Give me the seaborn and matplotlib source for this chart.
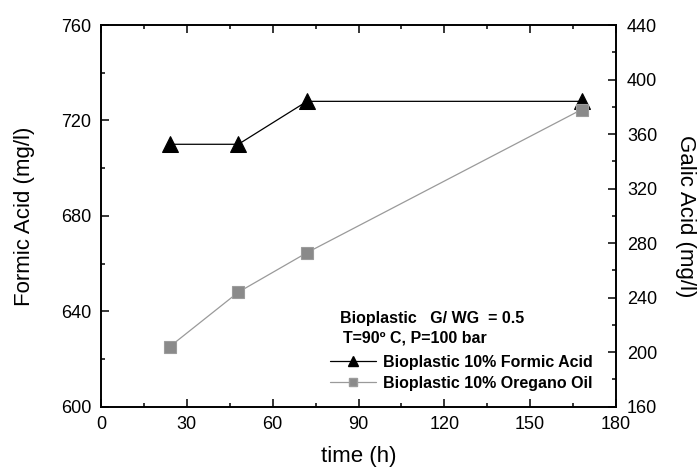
import matplotlib
matplotlib.use("Agg")
import matplotlib.pyplot as plt
import seaborn as sns
import pandas as pd
from matplotlib.ticker import MultipleLocator
from matplotlib.lines import Line2D

# Sampling times (h)
time_h = [24, 48, 72, 168]
# Formic acid concentration (mg/l), left axis
formic_acid = [710, 710, 728, 728]
# Gallic acid concentration (mg/l), right axis
galic_acid = [204, 244, 273, 378]

label_formic = "Bioplastic 10% Formic Acid"
label_oregano = "Bioplastic 10% Oregano Oil"
header_1 = "Bioplastic   G/ WG  = 0.5"
header_2 = "T=90º C, P=100 bar"

sns.set_style("ticks")
plt.rcParams["font.family"] = ["Liberation Sans", "DejaVu Sans"]
plt.rcParams["text.color"] = "black"
plt.rcParams["axes.labelcolor"] = "black"
plt.rcParams["xtick.color"] = "black"
plt.rcParams["ytick.color"] = "black"

df_formic = pd.DataFrame({"time": time_h, "value": formic_acid})
df_galic = pd.DataFrame({"time": time_h, "value": galic_acid})

fig = plt.figure(figsize=(6.98, 4.68), dpi=100)
ax = fig.add_axes([101 / 698, 1 - 406.7 / 468, 515 / 698, 381.7 / 468])
ax2 = ax.twinx()

gray_line = "#9a9a9a"
gray_marker = "#8a8a8a"

sns.lineplot(data=df_formic, x="time", y="value", ax=ax, color="black",
             linewidth=0.9, marker="^", markersize=12, markeredgecolor="black",
             markerfacecolor="black", legend=False)
sns.lineplot(data=df_galic, x="time", y="value", ax=ax2, color=gray_line,
             linewidth=0.9, marker="s", markersize=8.5, markeredgecolor="#9c9c9c",
             markerfacecolor=gray_marker, markeredgewidth=0.8, legend=False)

ax.set_xlim(0, 180)
ax.set_ylim(600, 760)
ax2.set_ylim(160, 440)

ax.xaxis.set_major_locator(MultipleLocator(30))
ax.xaxis.set_minor_locator(MultipleLocator(15))
ax.yaxis.set_major_locator(MultipleLocator(40))
ax.yaxis.set_minor_locator(MultipleLocator(20))
ax2.yaxis.set_major_locator(MultipleLocator(40))
ax2.yaxis.set_minor_locator(MultipleLocator(20))

for a in (ax, ax2):
    for s in a.spines.values():
        s.set_linewidth(1.2)
        s.set_color("black")

ax.tick_params(axis="both", which="major", direction="in", length=6, width=1.1,
               labelsize=13, top=True, right=False, pad=7, colors="black")
ax.tick_params(axis="both", which="minor", direction="in", length=3, width=1.1,
               top=True, right=False, colors="black")
ax2.tick_params(axis="y", which="major", direction="in", length=6, width=1.1,
                labelsize=13, pad=8, colors="black")
ax2.tick_params(axis="y", which="minor", direction="in", length=3, width=1.1,
                colors="black")

ax.set_xlabel("time (h)", fontsize=16, labelpad=9, color="black")
ax.set_ylabel("Formic Acid (mg/l)", fontsize=16, labelpad=19, color="black")
ax2.set_ylabel("Galic Acid (mg/l)", fontsize=16, rotation=270, labelpad=28,
               color="black")

fig.text(340 / 698, 1 - 318 / 468, header_1, fontsize=11.5, fontweight="bold",
         ha="left", va="center")
fig.text(343 / 698, 1 - 338 / 468, header_2, fontsize=11.5, fontweight="bold",
         ha="left", va="center")

handles = [
    Line2D([], [], color="black", linewidth=0.9, marker="^", markersize=7,
           markerfacecolor="black", markeredgecolor="black"),
    Line2D([], [], color=gray_line, linewidth=0.9, marker="s", markersize=6,
           markerfacecolor=gray_marker, markeredgecolor="#9c9c9c"),
]
fig.legend(handles, [label_formic, label_oregano], loc="upper left",
           bbox_to_anchor=(330 / 698, 1 - 355 / 468), frameon=False,
           prop={"size": 11.5, "weight": "bold"}, handlelength=2.9,
           handletextpad=0.4, labelspacing=0.35, borderpad=0, borderaxespad=0)

fig.savefig("out.png", dpi=100)
